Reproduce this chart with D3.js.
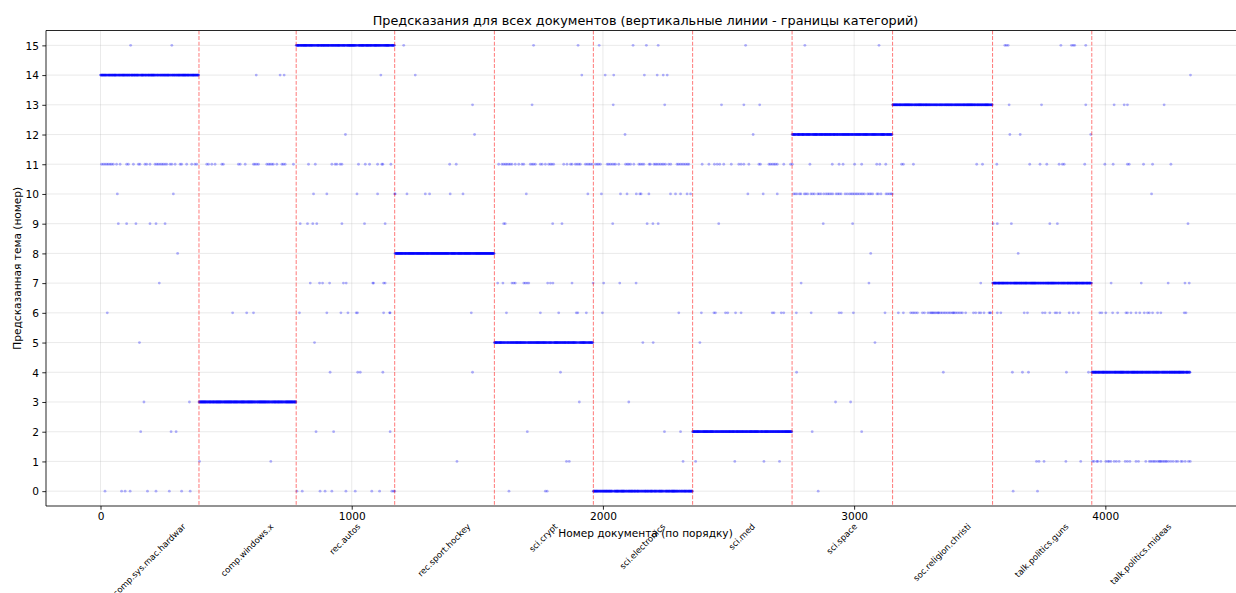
<!DOCTYPE html>
<html><head><meta charset="utf-8">
<script src="https://cdn.jsdelivr.net/npm/d3@7"></script>
<style>body{margin:0;background:#fff}svg{display:block;font-family:"DejaVu Sans",sans-serif}</style>
</head><body>
<svg id="chart" width="1236" height="593"></svg>
<script>
// ---------- DATA ----------
const categories = ["comp.sys.mac.hardwar","comp.windows.x","rec.autos","rec.sport.hockey","sci.crypt","sci.electronics","sci.med","sci.space","soc.religion.christi","talk.politics.guns","talk.politics.mideas"];
const categoryStarts = [0, 392, 779, 1171, 1568, 1962, 2357, 2753, 3153, 3551, 3946];
const documentCount = 4340;
const dominantTopic = [14, 3, 15, 8, 5, 0, 2, 12, 13, 7, 4];
const xTickValues = [0, 1000, 2000, 3000, 4000];
const yTickValues = [0,1,2,3,4,5,6,7,8,9,10,11,12,13,14,15];
const titleText = "Предсказания для всех документов (вертикальные линии - границы категорий)";
const xLabelText = "Номер документа (по порядку)";
const yLabelText = "Предсказанная тема (номер)";

// documents whose predicted topic differs from the category's main topic, per predicted topic
const stray15 = [120,284,1207,1724,1901,1985,2120,2173,2220,2568,2804,3099,3600,3606,3613,3823,3865,3872,3878,3922];
const stray14 = [620,715,731,1116,1253,1916,2009,2043,2165,2216,2240,2256,4339];
const stray13 = [1481,1718,2041,2246,2472,2561,2624,3617,3746,3922,4035,4075,4088,4234];
const stray12 = [975,1489,2088,2598,3620,3661,3942];
const stray11 = [4,11,18,25,31,38,44,51,64,78,104,111,131,151,157,177,184,197,217,224,230,237,244,250,257,264,277,284,297,317,323,343,363,376,383,
  423,430,443,456,483,489,549,556,576,609,615,622,629,662,669,675,682,688,702,722,728,735,768,
  828,855,921,934,941,954,961,1027,1054,1071,1103,1120,1124,1156,1390,1416,
  1585,1598,1605,1612,1618,1625,1631,1638,1651,1665,1678,1685,1711,1718,1724,1731,1751,1758,1771,1784,1791,1797,1804,1844,1857,1871,1877,1890,1897,1904,1910,1930,1937,1944,1950,1957,
  1970,1977,1983,1990,2017,2023,2030,2037,2044,2050,2063,2090,2097,2103,2110,2123,2143,2149,2156,2163,2184,2189,2203,2209,2215,2222,2229,2236,2242,2249,2262,2270,2295,2301,2308,2315,2322,2329,2336,2342,
  2395,2422,2444,2455,2465,2481,2511,2541,2550,2561,2581,2621,2627,2661,2667,2674,2681,2687,2694,2720,2747,
  2754,2824,2913,2940,2956,3002,3030,3090,3102,3126,3189,3196,3236,3488,3511,
  3568,3699,3740,3767,3816,3829,3836,3918,3998,4031,4088,4095,4152,4188,4261];
const stray10 = [67,290,848,901,1021,1103,1171,1173,1220,1293,1310,1392,1443,1695,1940,1994,2070,2096,2133,2147,2152,2183,2269,2289,2309,2335,2349,2577,2638,2694,
  2759,2765,2772,2782,2788,2802,2808,2815,2828,2835,2842,2855,2861,2868,2879,2888,2895,2901,2908,2915,2928,2935,2941,2948,2964,2972,2981,2988,2994,3001,3008,3014,3021,3028,3034,3041,3054,3061,3067,3074,3091,3097,3107,3127,3134,3141,3147,3152,
  4184];
const stray9 = [71,104,141,197,221,257,795,824,845,861,961,1051,1133,1605,1611,1800,1837,2039,2176,2199,2220,2461,2877,2994,3553,3570,3626,3779,3809,4329];
const stray8 = [307,3066,3653];
const stray7 = [234,835,872,884,912,967,978,1084,1087,1127,1133,1581,1602,1638,1645,1651,1685,1691,1698,1705,1780,1791,1801,1877,1961,2003,2067,2132,2789,3059,3504,4023,4143,4250,4317,4334];
const stray6 = [27,526,582,609,792,901,957,985,1018,1023,1127,1151,1153,1476,1616,1751,1824,1894,1900,1934,1998,2302,
  2392,2442,2448,2488,2497,2528,2550,2674,2681,2710,2720,2770,2829,2940,2949,2997,3123,
  3176,3196,3225,3232,3238,3245,3252,3272,3280,3294,3302,3307,3311,3315,3320,3325,3331,3335,3338,3345,3351,3358,3364,3371,3378,3384,3391,3395,3398,3404,3411,3418,3425,3431,3444,3475,3484,3497,3504,3517,3537,3541,3544,
  3570,3584,3677,3690,3750,3760,3779,3800,3807,3819,3856,3872,3893,
  3978,3986,4002,4029,4049,4082,4088,4102,4122,4137,4155,4168,4175,4188,4208,4221,4314,4321];
const stray5 = [155,852,2159,2200,2386,3083];
const stray4 = [914,1024,1034,1124,1481,1831,2771,3355,3630,3670,3694,3845,3933];
const stray3 = [173,354,1906,2103,2926,2986];
const stray2 = [160,281,301,858,928,1153,1699,2245,2309,2833,3030];
const stray1 = [394,678,1419,1855,1866,2319,2369,2525,2641,2703,3726,3736,3756,3843,3902,
  3949,3955,3966,3970,3982,4002,4010,4015,4022,4035,4044,4055,4079,4088,4098,4122,4132,4161,4175,4181,4188,4194,4200,4208,4214,4218,4222,4228,4234,4240,4244,4252,4261,4270,4281,4288,4301,4307,4318,4331,4338];
const stray0 = [18,84,98,118,187,221,274,323,357,782,803,874,894,921,977,1014,1080,1111,1160,1167,1171,1626,1771,1778,2857,3633,3730];

const strayByTopic = [stray0,stray1,stray2,stray3,stray4,stray5,stray6,stray7,stray8,stray9,stray10,stray11,stray12,stray13,stray14,stray15];

// ---------- BUILD POINTS ----------
const strayPoints = [];
strayByTopic.forEach((docs, t) => docs.forEach(d => strayPoints.push({doc: d, topic: t})));
const strayDocs = new Set(strayPoints.map(p => p.doc));
const categoryEnds = categoryStarts.slice(1).concat([documentCount]);
const mainPoints = [];
categoryStarts.forEach((s, ci) => {
  for (let d = s; d < categoryEnds[ci]; d++) {
    if (!strayDocs.has(d)) mainPoints.push({doc: d, topic: dominantTopic[ci]});
  }
});
const points = mainPoints.concat(strayPoints);

// ---------- LAYOUT ----------
const svg = d3.select("#chart");
const pL = 46, pR = 1245, pT = 30.5, pB = 506;
const span = documentCount - 1;
const x = d3.scaleLinear().domain([-0.05 * span, span * 1.05]).range([pL, pR]);
const y = d3.scaleLinear().domain([-0.5, 15.5]).range([pB, pT]);

svg.append("clipPath").attr("id", "plotclip").append("rect")
  .attr("x", pL).attr("y", pT).attr("width", pR - pL).attr("height", pB - pT);

const plot = svg.append("g").attr("clip-path", "url(#plotclip)");

// grid
plot.append("g").selectAll("line").data(yTickValues).join("line")
  .attr("x1", pL).attr("x2", pR).attr("y1", d => y(d)).attr("y2", d => y(d))
  .attr("stroke", "#b0b0b0").attr("stroke-opacity", 0.3).attr("stroke-width", 0.9);
plot.append("g").selectAll("line").data(xTickValues).join("line")
  .attr("y1", pT).attr("y2", pB).attr("x1", d => x(d)).attr("x2", d => x(d))
  .attr("stroke", "#b0b0b0").attr("stroke-opacity", 0.3).attr("stroke-width", 0.9);

// points
plot.append("g").selectAll("circle").data(points).join("circle")
  .attr("cx", d => x(d.doc)).attr("cy", d => y(d.topic)).attr("r", 1.4)
  .attr("fill", "#0000ff").attr("fill-opacity", 0.3);

// category boundaries
plot.append("g").selectAll("line").data(categoryStarts.slice(1)).join("line")
  .attr("x1", d => x(d)).attr("x2", d => x(d)).attr("y1", pT).attr("y2", pB)
  .attr("stroke", "red").attr("stroke-opacity", 0.5).attr("stroke-width", 1.05)
  .attr("stroke-dasharray", "3.9,1.7");

// spines
svg.append("line").attr("x1", pL).attr("x2", pR).attr("y1", pT).attr("y2", pT).attr("stroke", "#000").attr("stroke-width", 0.85);
svg.append("line").attr("x1", pL).attr("x2", pR).attr("y1", pB).attr("y2", pB).attr("stroke", "#000").attr("stroke-width", 0.85);
svg.append("line").attr("x1", pL).attr("x2", pL).attr("y1", pT).attr("y2", pB).attr("stroke", "#000").attr("stroke-width", 0.85);

// axes
const xAxis = svg.append("g").attr("transform", `translate(0,${pB})`)
  .call(d3.axisBottom(x).tickValues(xTickValues).tickSize(3.7).tickPadding(3.2).tickFormat(d3.format("d")));
const yAxis = svg.append("g").attr("transform", `translate(${pL},0)`)
  .call(d3.axisLeft(y).tickValues(yTickValues).tickSize(3.7).tickPadding(3.4).tickFormat(d3.format("d")));
[xAxis, yAxis].forEach(a => {
  a.select(".domain").remove();
  a.selectAll(".tick line").attr("stroke", "#000").attr("stroke-width", 0.85);
  a.selectAll(".tick text").attr("fill", "#000").style("font-size", "10.6px").style("font-family", "DejaVu Sans");
});
yAxis.selectAll(".tick text").attr("dy", "0.36em");

// category labels (rotated 45°, box centred on the category middle)
const fs = 8.5, c45 = Math.SQRT1_2, labelTop = 522.5;
const catLabels = svg.append("g");
categories.forEach((name, i) => {
  const cx = x((categoryStarts[i] + categoryEnds[i]) / 2);
  const t = catLabels.append("text").attr("text-anchor", "end")
    .style("font-size", fs + "px").attr("fill", "#000").text(name);
  const L = t.node().getComputedTextLength();
  const H = 1.0 * fs, asc = 0.76 * fs;
  const bx = cx + (L - H) * c45 / 2 + asc * c45;
  const by = labelTop + asc * c45;
  t.attr("transform", `translate(${bx},${by}) rotate(-45)`);
});

// titles
svg.append("text").attr("x", (pL + pR) / 2).attr("y", 24.5).attr("text-anchor", "middle")
  .style("font-size", "12.8px").attr("fill", "#000").text(titleText);
svg.append("text").attr("x", (pL + pR) / 2).attr("y", 537).attr("text-anchor", "middle")
  .style("font-size", "10.6px").attr("fill", "#000").text(xLabelText);
svg.append("text").attr("transform", `translate(21,${(pT + pB) / 2}) rotate(-90)`).attr("text-anchor", "middle")
  .style("font-size", "10.6px").attr("fill", "#000").text(yLabelText);
</script>
</body></html>
